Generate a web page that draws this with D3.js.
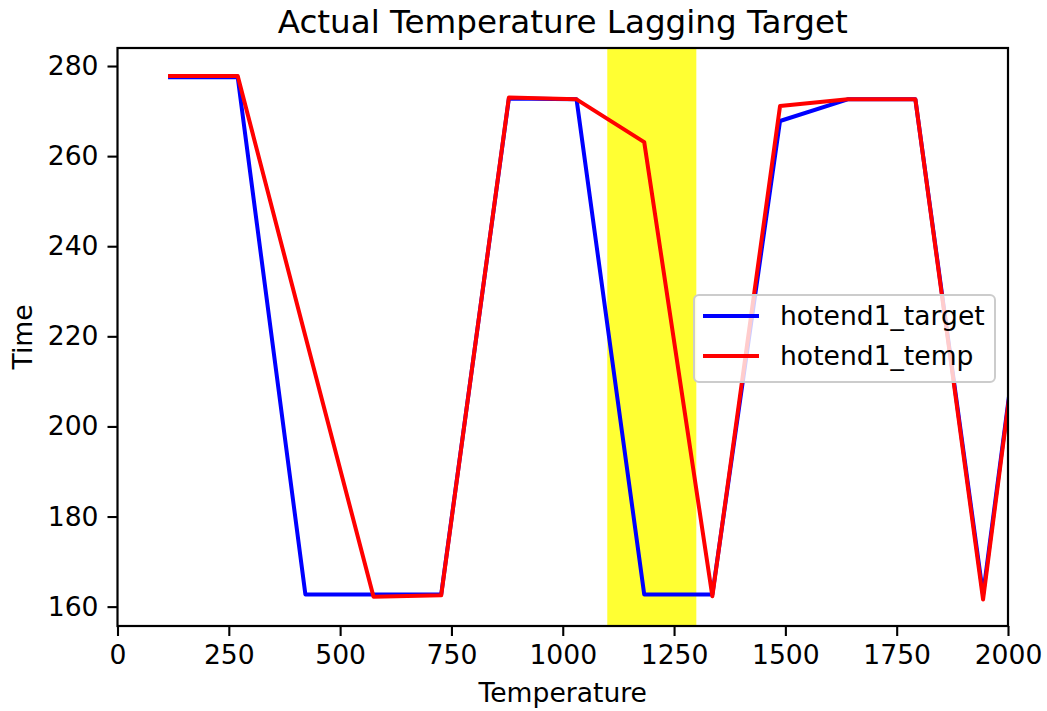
<!DOCTYPE html>
<html>
<head>
<meta charset="utf-8">
<script src="https://cdn.jsdelivr.net/npm/d3@7"></script>
<style>
  body { margin: 0; background: #fff; }
  svg { display: block; font-family: "DejaVu Sans", sans-serif; }
</style>
</head>
<body>
<div id="chart"></div>
<script>
// Actual temperature vs target, hot end 1
const xValues = [118, 270, 422, 575, 727, 879, 1031, 1183, 1336, 1488, 1640, 1792, 1944, 2096];
const targetValues = [277.5, 277.5, 162.7, 162.7, 162.7, 272.8, 272.6, 162.7, 162.7, 267.8, 272.6, 272.6, 162.7, 277.5];
const tempValues = [277.8, 277.8, 220.0, 162.2, 162.5, 273.0, 272.6, 263.1, 162.3, 271.1, 272.6, 272.6, 161.6, 277.8];
const seriesNames = ["hotend1_target", "hotend1_temp"];
const xTicks = [0, 250, 500, 750, 1000, 1250, 1500, 1750, 2000];
const yTicks = [160, 180, 200, 220, 240, 260, 280];
const highlight = [1100, 1300];

const width = 1047, height = 711;
const margin = {top: 48, right: 39, bottom: 85, left: 117.5};
const fontSize = 26.6;

const svg = d3.select("#chart").append("svg")
  .attr("width", width).attr("height", height);

const x = d3.scaleLinear().domain([0, 2000]).range([margin.left, width - margin.right]);
const y = d3.scaleLinear().domain([155.7, 284.0]).range([height - margin.bottom, margin.top]);

svg.append("clipPath").attr("id", "plot-clip")
  .append("rect")
  .attr("x", margin.left).attr("y", margin.top)
  .attr("width", x(2000) - margin.left).attr("height", y(155.7) - margin.top);

// yellow band
svg.append("rect")
  .attr("x", x(highlight[0])).attr("y", margin.top)
  .attr("width", x(highlight[1]) - x(highlight[0]))
  .attr("height", y(155.7) - margin.top)
  .attr("fill", "yellow").attr("fill-opacity", 0.8);

const line = d3.line().x(d => x(d[0])).y(d => y(d[1]));
const series = [
  {name: seriesNames[0], color: "#0000ff", values: targetValues},
  {name: seriesNames[1], color: "#ff0000", values: tempValues}
];

const plot = svg.append("g").attr("clip-path", "url(#plot-clip)");
series.forEach(s => {
  plot.append("path")
    .datum(xValues.map((v, i) => [v, s.values[i]]))
    .attr("d", line)
    .attr("fill", "none").attr("stroke", s.color)
    .attr("stroke-width", 4).attr("stroke-linejoin", "round").attr("stroke-linecap", "square");
});

// axes
const xAxis = svg.append("g").attr("transform", `translate(0,${y(155.7)})`)
  .call(d3.axisBottom(x).tickValues(xTicks).tickSize(10).tickPadding(9).tickFormat(d3.format("d")));
const yAxis = svg.append("g").attr("transform", `translate(${margin.left},0)`)
  .call(d3.axisLeft(y).tickValues(yTicks).tickSize(10).tickPadding(9).tickFormat(d3.format("d")));
[xAxis, yAxis].forEach(a => {
  a.select(".domain").remove();
  a.selectAll(".tick line").attr("stroke", "#000").attr("stroke-width", 2.1);
  a.selectAll(".tick text").attr("font-size", fontSize).attr("fill", "#000")
    .attr("font-family", "DejaVu Sans");
});

// frame
svg.append("rect")
  .attr("x", margin.left).attr("y", margin.top)
  .attr("width", x(2000) - margin.left).attr("height", y(155.7) - margin.top)
  .attr("fill", "none").attr("stroke", "#000").attr("stroke-width", 2.2);

// labels
svg.append("text").attr("x", (x(0) + x(2000)) / 2).attr("y", 33)
  .attr("text-anchor", "middle").attr("font-size", 32.6).text("Actual Temperature Lagging Target");
svg.append("text").attr("x", (x(0) + x(2000)) / 2).attr("y", 702)
  .attr("text-anchor", "middle").attr("font-size", fontSize).text("Temperature");
svg.append("text").attr("transform", `translate(32,${(y(155.7) + margin.top) / 2}) rotate(-90)`)
  .attr("text-anchor", "middle").attr("font-size", fontSize).text("Time");

// legend
const legend = svg.append("g").attr("transform", "translate(694,295)");
legend.append("rect").attr("width", 301).attr("height", 87).attr("rx", 5)
  .attr("fill", "#fff").attr("fill-opacity", 0.8)
  .attr("stroke", "#cccccc").attr("stroke-width", 2);
series.forEach((s, i) => {
  const ly = 21 + i * 40;
  legend.append("line").attr("x1", 9).attr("x2", 65).attr("y1", ly).attr("y2", ly)
    .attr("stroke", s.color).attr("stroke-width", 4);
  legend.append("text").attr("x", 86).attr("y", ly + 9)
    .attr("font-size", fontSize).text(s.name);
});
</script>
</body>
</html>
